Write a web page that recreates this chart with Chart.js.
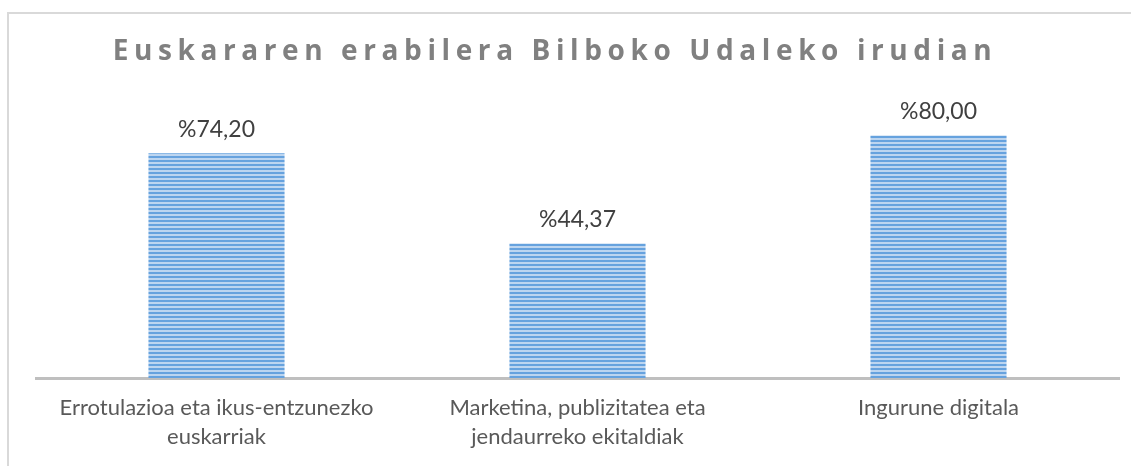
<!DOCTYPE html>
<html>
<head>
<meta charset="utf-8">
<script src="https://cdn.jsdelivr.net/npm/chart.js@4.4.0/dist/chart.umd.min.js"></script>
<style>
  html, body { margin: 0; padding: 0; background: #fff; }
  #wrap { position: relative; width: 1131px; height: 466px; overflow: hidden; }
  #frame { position: absolute; left: 7px; top: 12px; width: 1140px; height: 470px;
           border-left: 2px solid #d9d9d9; border-top: 2px solid #d9d9d9; }
  #title { position: absolute; left: 0; top: 30px; width: 1110px; text-align: center;
           font-family: "Open Sans", sans-serif; font-weight: bold; font-size: 28px;
           letter-spacing: 5.6px; color: #808080; }
  #chart { position: absolute; left: 0; top: 0; }
</style>
</head>
<body>
<div id="wrap">
  <div id="frame"></div>
  <canvas id="chart" width="1131" height="466"></canvas>
  <div id="title">Euskararen erabilera Bilboko Udaleko irudian</div>
</div>
<script>
const categories = [
  ["Errotulazioa eta ikus-entzunezko", "euskarriak"],
  ["Marketina, publizitatea eta", "jendaurreko ekitaldiak"],
  ["Ingurune digitala"]
];
const values = [74.20, 44.37, 80.00];

// striped fill like the Excel bars
function stripes() {
  const c = document.createElement("canvas");
  c.width = 4; c.height = 4;
  const g = c.getContext("2d");
  g.fillStyle = "#bcd5f0";
  g.fillRect(0, 0, 4, 4);
  g.fillStyle = "#66a2de";
  g.fillRect(0, 0, 4, 2);
  return g.createPattern(c, "repeat");
}

const valueLabels = {
  id: "valueLabels",
  afterDatasetsDraw(chart) {
    const ctx = chart.ctx;
    const meta = chart.getDatasetMeta(0);
    ctx.save();
    ctx.font = '23px Lato, sans-serif';
    ctx.fillStyle = "#404040";
    ctx.textAlign = "center";
    ctx.textBaseline = "middle";
    meta.data.forEach((bar, i) => {
      const txt = "%" + values[i].toFixed(2).replace(".", ",");
      ctx.fillText(txt, bar.x, bar.y - 24);
    });
    ctx.restore();
  }
};

let chartInstance = new Chart(document.getElementById("chart"), {
  type: "bar",
  data: {
    labels: categories,
    datasets: [{
      data: values,
      backgroundColor: stripes(),
      borderWidth: 0,
      categoryPercentage: 1,
      barPercentage: 0.377
    }]
  },
  options: {
    responsive: false,
    animation: false,
    layout: { padding: { left: 36, right: 12, top: 75, bottom: 0 } },
    plugins: { legend: { display: false }, tooltip: { enabled: false } },
    scales: {
      y: { display: false, min: 0, max: 100 },
      x: {
        afterFit(scale) { scale.height = 88; },
        grid: { display: false, drawTicks: false },
        border: { display: true, color: "#bfbfbf", width: 3 },
        ticks: {
          color: "#595959",
          padding: 15,
          maxRotation: 0,
          autoSkip: false,
          font: { family: "Lato", size: 22, lineHeight: 1.32 }
        }
      }
    }
  },
  plugins: [valueLabels]
});
</script>
</body>
</html>
